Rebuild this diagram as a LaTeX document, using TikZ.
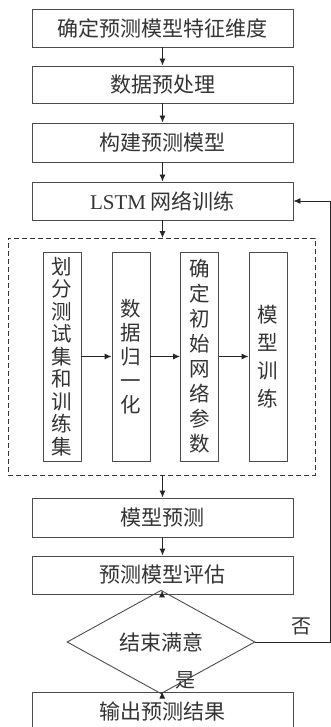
\documentclass[tikz,border=0pt]{standalone}
\usepackage{fontspec}
\setmainfont{Liberation Serif}
\newfontfamily\cjk{Noto Sans CJK SC}
\usetikzlibrary{arrows.meta,shapes.geometric}
\begin{document}
\begin{tikzpicture}[x=1pt,y=-1pt,
  box/.style={draw=black!70,line width=0.9pt,minimum width=261pt,minimum height=38pt,inner sep=0pt,
    font=\cjk\fontsize{21}{23}\selectfont,text=black!80},
  vbox/.style={draw=black!70,line width=0.9pt,minimum width=38pt,minimum height=209pt,inner sep=0pt,
    align=center,font=\cjk\fontsize{20.5}{#1}\selectfont,text=black!80},
  dec/.style={draw=black!70,line width=0.9pt,shape=diamond,minimum width=188pt,minimum height=56pt,inner sep=0pt,
    font=\cjk\fontsize{21}{23}\selectfont,text=black!80},
  arr/.style={draw=black!85,line width=0.9pt,-{Latex[length=7pt,width=6pt]}},
  lbl/.style={font=\cjk\fontsize{20}{22}\selectfont,text=black!80}]
\useasboundingbox (0,0) rectangle (331,727);
\clip (0,0) rectangle (331,727);
\node[box] (b1) at (162.5,28) {确定预测模型特征维度};
\node[box,minimum height=37pt] (b2) at (162.5,84.5) {数据预处理};
\node[box,minimum height=39pt] (b3) at (162.5,142.5) {构建预测模型};
\node[box] (b4) at (162.5,201) {{\rmfamily LSTM} 网络训练};
\node[draw=black!80,line width=0.9pt,dashed,dash pattern=on 5pt off 3pt,minimum width=307pt,minimum height=237pt,inner sep=0pt] (dz) at (161.5,356.5) {};
\node[vbox=22.5] (i1) at (62,356.5) {划\\分\\测\\试\\集\\和\\训\\练\\集};
\node[vbox=24] (i2) at (131,356.5) {数\\据\\归\\一\\化};
\node[vbox=25] (i3) at (199.5,356.5) {确\\定\\初\\始\\网\\络\\参\\数};
\node[vbox=28] (i4) at (268,356.5) {模\\型\\训\\练};
\node[box,minimum height=39pt] (b5) at (162.5,517.5) {模型预测};
\node[box] (b6) at (162.5,575) {预测模型评估};
\node[dec] (d) at (161,642) {结束满意};
\node[box] (b7) at (162.5,711) {输出预测结果};
\coordinate (dztop) at (162.5,238);
\coordinate (dzbot) at (162.5,475);
\coordinate (fr) at (330,642);
\coordinate (fu) at (330,201);
\draw[arr] (b1) -- (b2);
\draw[arr] (b2) -- (b3);
\draw[arr] (b3) -- (b4);
\draw[arr] (b4) -- (dztop);
\draw[arr] (i1) -- (i2);
\draw[arr] (i2) -- (i3);
\draw[arr] (i3) -- (i4);
\draw[arr] (dzbot) -- (b5);
\draw[arr] (b5) -- (b6);
\draw[arr] (b6) -- (d);
\draw[arr] (d) -- (b7);
\draw[arr] (d.east) -- (fr) -- (fu) -- (b4.east);
\node[lbl] (no) at (301,626) {否};
\node[lbl] (yes) at (185,680) {是};
\end{tikzpicture}
\end{document}
